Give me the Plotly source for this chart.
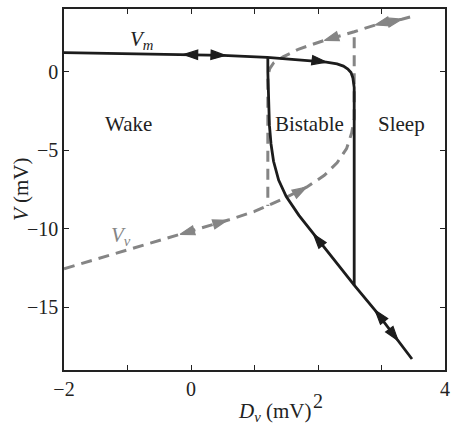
import numpy as np
import plotly.graph_objects as go

# ---- V_m : membrane potential branches ----
vm_up_x = [-2.0, -1.0, 0.0, 0.5, 1.2, 1.8, 2.13, 2.3, 2.4, 2.47, 2.52, 2.55, 2.57, 2.57]
vm_up_y = [1.22, 1.16, 1.09, 1.05, 0.92, 0.75, 0.62, 0.50, 0.36, 0.18, -0.05, -0.4, -1.0, -13.6]

vm_lo_x = [3.48, 2.90, 2.57, 2.2, 1.93, 1.70, 1.50, 1.38, 1.30, 1.26, 1.235, 1.22, 1.21, 1.21]
vm_lo_y = [-18.3, -15.2, -13.6, -11.7, -10.35, -9.15, -7.95, -6.9, -5.7, -4.6, -3.4, -2.0, 0.0, 0.92]

# ---- V_v : second population branches ----
vv_lo_x = [-2.0, -1.0, 0.0, 0.6, 1.0, 1.2, 1.5, 1.82, 2.1, 2.3, 2.45, 2.53, 2.57, 2.57]
vv_lo_y = [-12.55, -11.35, -10.15, -9.43, -8.9, -8.55, -8.0, -7.35, -6.6, -5.8, -4.9, -3.9, -3.0, 2.55]

vv_hi_x = [3.45, 3.32, 2.9, 2.57, 2.1, 1.7, 1.45, 1.30, 1.24, 1.21, 1.21]
vv_hi_y = [3.49, 3.35, 2.98, 2.55, 2.0, 1.45, 0.95, 0.56, 0.2, -0.3, -8.55]

# arrowheads: (branch, x position, direction +1 = increasing x, -1 = decreasing x)
vm_arrows = [("up", -0.12, -1), ("up", 0.54, 1), ("up", 2.13, 1),
             ("lo", 1.93, -1), ("lo", 2.90, -1), ("lo", 3.26, 1)]
vv_arrows = [("lo", -0.17, -1), ("lo", 0.57, 1), ("lo", 1.82, 1),
             ("hi", 2.10, -1), ("hi", 2.90, -1), ("hi", 3.32, 1)]

X_RANGE = [-2, 4]
Y_RANGE = [-19, 4]
L, R, T, B = 64, 4, 9, 55
W, H = 454, 425
PX_X = (W - L - R) / (X_RANGE[1] - X_RANGE[0])
PX_Y = (H - T - B) / (Y_RANGE[1] - Y_RANGE[0])

BLACK = "#1c1c1c"
GRAY = "#858585"
TEXT = "#222222"
FONT = "Times New Roman, Liberation Serif, DejaVu Serif, serif"


def arrow_marks(branches, arrows):
    xs, ys, angles = [], [], []
    for name, x0, d in arrows:
        bx, by = branches[name]
        bx = np.asarray(bx[:-1]); by = np.asarray(by[:-1])
        order = np.argsort(bx)
        bx, by = bx[order], by[order]
        y0 = np.interp(x0, bx, by)
        h = 0.03
        slope = (np.interp(x0 + h, bx, by) - np.interp(x0 - h, bx, by)) / (2 * h)
        dxp = d * PX_X
        dyp = -d * slope * PX_Y
        ang = np.degrees(np.arctan2(dxp, -dyp))
        xs.append(x0); ys.append(y0); angles.append(ang)
    return xs, ys, angles


fig = go.Figure()

# dashed V_v branches
for bx, by in [(vv_lo_x, vv_lo_y), (vv_hi_x, vv_hi_y)]:
    fig.add_trace(go.Scatter(x=bx, y=by, mode="lines",
                             line=dict(color=GRAY, width=3, dash="11px,7px"),
                             hoverinfo="skip", showlegend=False))

# solid V_m branches
for bx, by in [(vm_up_x, vm_up_y), (vm_lo_x, vm_lo_y)]:
    fig.add_trace(go.Scatter(x=bx, y=by, mode="lines",
                             line=dict(color=BLACK, width=2.8),
                             hoverinfo="skip", showlegend=False))

for branches, arrows, col in [
    ({"up": (vm_up_x, vm_up_y), "lo": (vm_lo_x, vm_lo_y)}, vm_arrows, BLACK),
    ({"lo": (vv_lo_x, vv_lo_y), "hi": (vv_hi_x, vv_hi_y)}, vv_arrows, GRAY),
]:
    ax, ay, aa = arrow_marks(branches, arrows)
    fig.add_trace(go.Scatter(x=ax, y=ay, mode="markers",
                             marker=dict(symbol="arrow", size=15, angle=aa,
                                         color=col, line=dict(width=1.2, color=col)),
                             hoverinfo="skip", showlegend=False))

# region and curve labels
labels = [
    (-0.78, 2.05, "<i>V</i><sub><i>m</i></sub>", TEXT),
    (-1.10, -10.45, "<i>V</i><sub><i>v</i></sub>", GRAY),
    (-0.98, -3.3, "Wake", TEXT),
    (1.86, -3.3, "Bistable", TEXT),
    (3.32, -3.3, "Sleep", TEXT),
]
for x, y, t, c in labels:
    fig.add_annotation(x=x, y=y, text=t, showarrow=False,
                       font=dict(family=FONT, size=21, color=c))

# axis titles and the offset tick label at 2
fig.add_annotation(xref="paper", yref="paper", x=0.552, y=-0.116,
                   text="<i>D</i><sub><i>v</i></sub> (mV)", showarrow=False,
                   yanchor="middle", font=dict(family=FONT, size=21, color=TEXT))
fig.add_annotation(x=2, yref="paper", y=-0.085, text="2", showarrow=False,
                   yanchor="middle", font=dict(family=FONT, size=20, color=TEXT))
fig.add_annotation(xref="paper", yref="paper", x=-0.114, y=0.5,
                   text="<i>V</i> (mV)", textangle=-90, showarrow=False,
                   xanchor="center", yanchor="middle",
                   font=dict(family=FONT, size=21, color=TEXT))

axis_common = dict(showgrid=False, zeroline=False, showline=True, linecolor=TEXT,
                   linewidth=1.6, mirror="ticks", ticks="inside", ticklen=5,
                   tickcolor=TEXT, tickwidth=1,
                   tickfont=dict(family=FONT, size=20, color=TEXT))

fig.update_xaxes(range=X_RANGE, tickvals=[-2, 0, 4],
                 minor=dict(dtick=1, tick0=0, ticks="inside", ticklen=5,
                            tickcolor=TEXT, tickwidth=1, showgrid=False),
                 **axis_common)
fig.update_yaxes(range=Y_RANGE, tickvals=[-15, -10, -5, 0], **axis_common)

fig.update_layout(width=W, height=H, margin=dict(l=L, r=R, t=T, b=B),
                  plot_bgcolor="white", paper_bgcolor="white")

fig.write_html("out.html")
